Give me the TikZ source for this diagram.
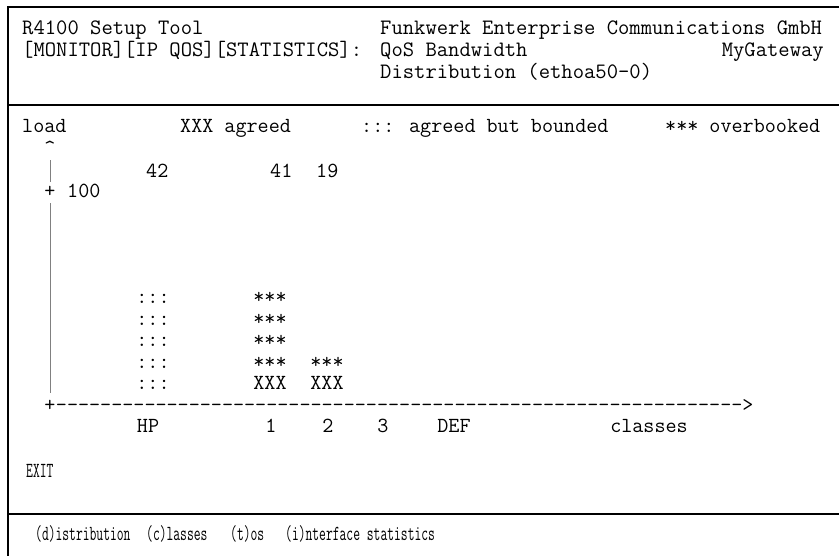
\documentclass[tikz,border=0pt]{standalone}
\usepackage{fontspec}
\newcommand\cond[1]{\scalebox{0.615}[1]{#1}}
\begin{document}
\begin{tikzpicture}[x=1pt,y=-1pt,
  scr/.style={font=\fontsize{21.5}{26}\ttfamily, inner sep=0pt, anchor=base west},
  head/.style={scr, font=\fontsize{22}{26}\ttfamily},
  cnt/.style={scr, anchor=base},
  frame/.style={line width=2.2pt},
  axisline/.style={gray, line width=1pt}]
  \useasboundingbox (0,0) rectangle (839,556);
  % screen frame
  \draw[frame] (8,556) -- (8,7) -- (839,7);
  \draw[frame] (8,105) -- (839,105);
  \draw[frame] (8,514) -- (839,514);
  % header
  \node[head] (tool) at (22,35) {R4100 Setup Tool};
  \node[head] (vendor) at (380,35) {Funkwerk Enterprise Communications GmbH};
  \node[head] (menu) at (22,57) {[MONITOR][IP QOS][STATISTICS]:};
  \node[head] (title) at (380,57) {QoS Bandwidth};
  \node[head, anchor=base east] (gw) at (824,57) {MyGateway};
  \node[head] (title2) at (380,79) {Distribution (ethoa50-0)};
  % legend
  \node[scr] (load) at (22,133) {load};
  \node[scr] (agreed) at (180,133) {XXX agreed};
  \node[scr] (bounded) at (361,133) {::: agreed but bounded};
  \node[scr] (overbooked) at (665,133) {*** overbooked};
  % load axis
  \node[cnt] (caret) at (50,155) {\textasciicircum};
  \node[scr] (v42) at (146,178) {42};
  \node[scr] (v41) at (270,178) {41};
  \node[scr] (v19) at (316,178) {19};
  \node[cnt] (tick) at (50,198) {+};
  \node[scr] (v100) at (67,198) {100};
  % bars
  \foreach \y [count=\i] in {304,325.5,347,368.5,390} {
    \node[cnt] (hp\i) at (153,\y) {:::};
  }
  \foreach \y [count=\i] in {304,325.5,347,368.5} {
    \node[cnt] (one\i) at (270,\y) {***};
  }
  \node[cnt] (one5) at (270,390) {XXX};
  \node[cnt] (two4) at (327,368.5) {***};
  \node[cnt] (two5) at (327,390) {XXX};
  % class axis
  \node[cnt] (origin) at (50,411) {+};
  \node[scr] (dashes) at (origin.base east) {\foreach \i in {1,...,62}{-\kern0pt}>};
  \node[cnt] (lhp) at (148,432) {HP};
  \node[cnt] (l1) at (271,432) {1};
  \node[cnt] (l2) at (328,432) {2};
  \node[cnt] (l3) at (383,432) {3};
  \node[cnt] (ldef) at (454,432) {DEF};
  \node[cnt] (lcls) at (649,432) {classes};
  \draw[axisline, shorten <=5pt, shorten >=4pt] (caret) -- (tick);
  \draw[axisline, shorten <=5pt, shorten >=6pt] (tick) -- (origin);
  % exit and key line
  \node[scr] (exit) at (26,477) {\cond{EXIT}};
  \node[scr] (kd) at (35,540) {\cond{(d)istribution}};
  \node[scr] (kc) at (146,540) {\cond{(c)lasses}};
  \node[scr] (kt) at (230,540) {\cond{(t)os}};
  \node[scr] (ki) at (285,540) {\cond{(i)nterface statistics}};
\end{tikzpicture}
\end{document}
